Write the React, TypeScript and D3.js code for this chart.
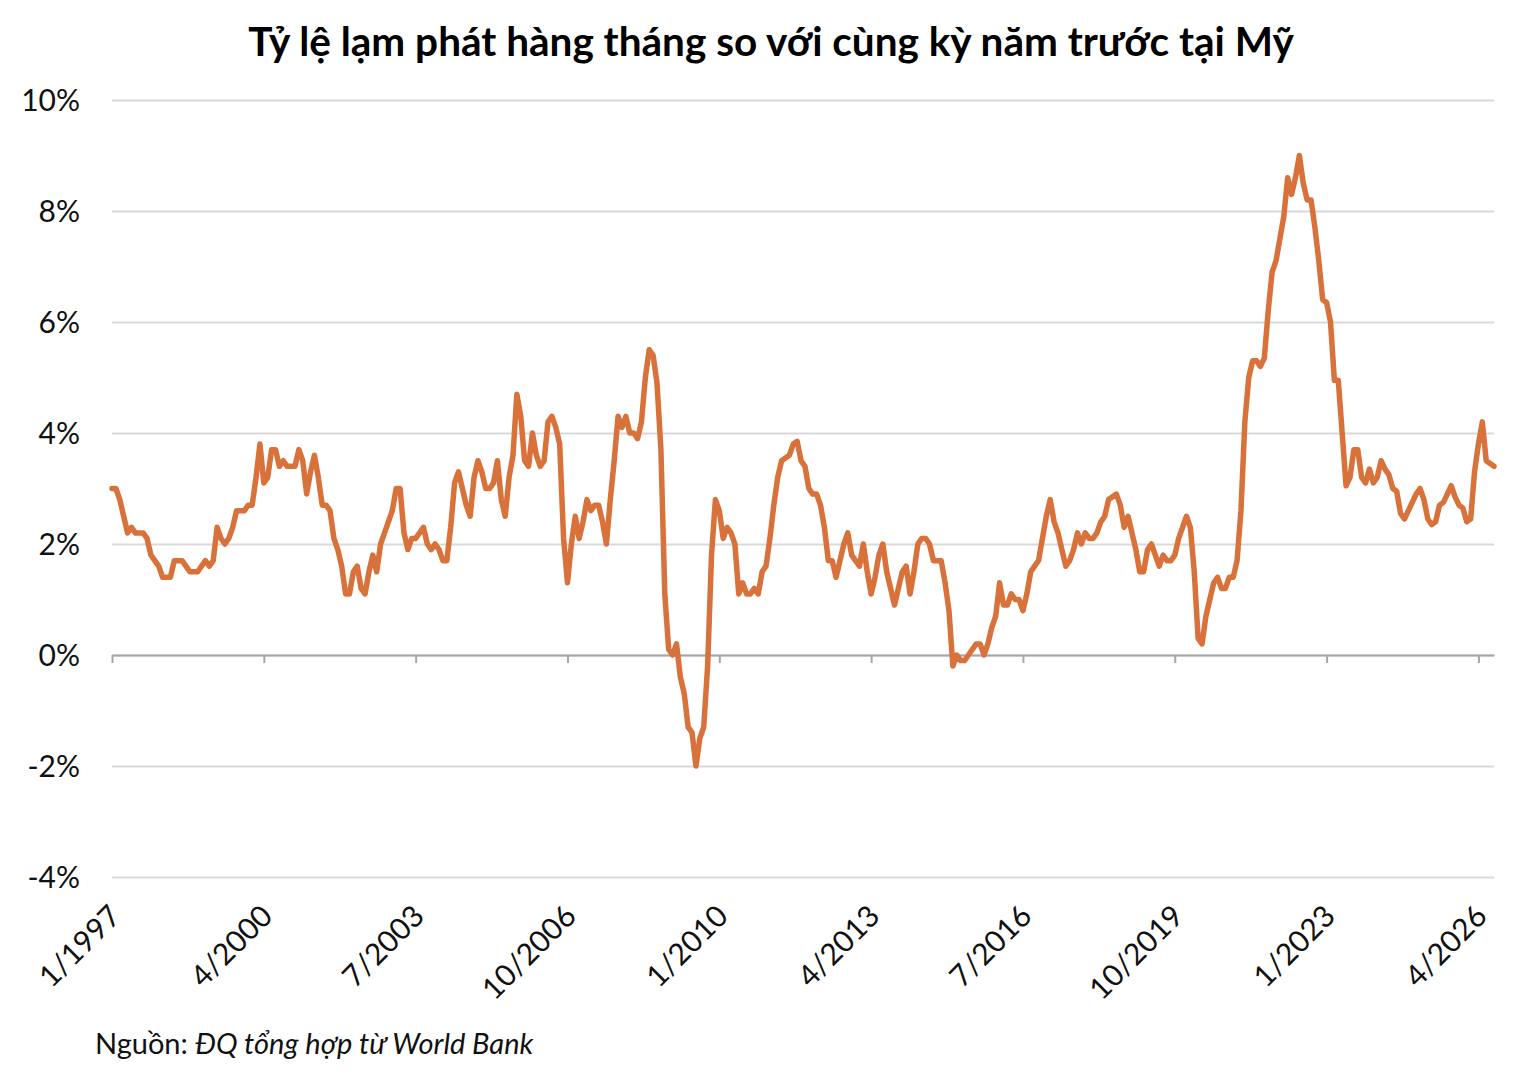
import React, { useEffect, useRef } from "react";
import * as d3 from "d3";

// US CPI, % change vs same month a year earlier
const years = [
  1997, 1998, 1999, 2000, 2001, 2002, 2003, 2004, 2005, 2006, 2007, 2008, 2009, 2010, 2011,
  2012, 2013, 2014, 2015, 2016, 2017, 2018, 2019, 2020, 2021, 2022, 2023, 2024, 2025, 2026,
];
const v1997 = [3.0, 3.0, 2.8, 2.5, 2.2, 2.3, 2.2, 2.2, 2.2, 2.1, 1.8, 1.7];
const v1998 = [1.6, 1.4, 1.4, 1.4, 1.7, 1.7, 1.7, 1.6, 1.5, 1.5, 1.5, 1.6];
const v1999 = [1.7, 1.6, 1.7, 2.3, 2.1, 2.0, 2.1, 2.3, 2.6, 2.6, 2.6, 2.7];
const v2000 = [2.7, 3.2, 3.8, 3.1, 3.2, 3.7, 3.7, 3.4, 3.5, 3.4, 3.4, 3.4];
const v2001 = [3.7, 3.5, 2.9, 3.3, 3.6, 3.2, 2.7, 2.7, 2.6, 2.1, 1.9, 1.6];
const v2002 = [1.1, 1.1, 1.5, 1.6, 1.2, 1.1, 1.5, 1.8, 1.5, 2.0, 2.2, 2.4];
const v2003 = [2.6, 3.0, 3.0, 2.2, 1.9, 2.1, 2.1, 2.2, 2.3, 2.0, 1.9, 2.0];
const v2004 = [1.9, 1.7, 1.7, 2.3, 3.1, 3.3, 3.0, 2.7, 2.5, 3.2, 3.5, 3.3];
const v2005 = [3.0, 3.0, 3.1, 3.5, 2.8, 2.5, 3.2, 3.6, 4.7, 4.3, 3.5, 3.4];
const v2006 = [4.0, 3.6, 3.4, 3.5, 4.2, 4.3, 4.1, 3.8, 2.1, 1.3, 2.0, 2.5];
const v2007 = [2.1, 2.4, 2.8, 2.6, 2.7, 2.7, 2.4, 2.0, 2.8, 3.5, 4.3, 4.1];
const v2008 = [4.3, 4.0, 4.0, 3.9, 4.2, 5.0, 5.5, 5.4, 4.9, 3.7, 1.1, 0.1];
const v2009 = [0.0, 0.2, -0.4, -0.7, -1.3, -1.4, -2.0, -1.5, -1.3, -0.2, 1.8, 2.8];
const v2010 = [2.6, 2.1, 2.3, 2.2, 2.0, 1.1, 1.3, 1.1, 1.1, 1.2, 1.1, 1.5];
const v2011 = [1.6, 2.1, 2.7, 3.2, 3.5, 3.55, 3.6, 3.8, 3.85, 3.5, 3.4, 3.0];
const v2012 = [2.9, 2.9, 2.7, 2.3, 1.7, 1.7, 1.4, 1.7, 2.0, 2.2, 1.8, 1.7];
const v2013 = [1.6, 2.0, 1.5, 1.1, 1.4, 1.8, 2.0, 1.5, 1.2, 0.9, 1.2, 1.5];
const v2014 = [1.6, 1.1, 1.5, 2.0, 2.1, 2.1, 2.0, 1.7, 1.7, 1.7, 1.3, 0.8];
const v2015 = [-0.2, 0.0, -0.1, -0.1, 0.0, 0.1, 0.2, 0.2, 0.0, 0.2, 0.5, 0.7];
const v2016 = [1.3, 0.9, 0.9, 1.1, 1.0, 1.0, 0.8, 1.1, 1.5, 1.6, 1.7, 2.1];
const v2017 = [2.5, 2.8, 2.4, 2.2, 1.9, 1.6, 1.7, 1.9, 2.2, 2.0, 2.2, 2.1];
const v2018 = [2.1, 2.2, 2.4, 2.5, 2.8, 2.85, 2.9, 2.7, 2.3, 2.5, 2.2, 1.9];
const v2019 = [1.5, 1.5, 1.9, 2.0, 1.8, 1.6, 1.8, 1.7, 1.7, 1.8, 2.1, 2.3];
const v2020 = [2.5, 2.3, 1.5, 0.3, 0.2, 0.7, 1.0, 1.3, 1.4, 1.2, 1.2, 1.4];
const v2021 = [1.4, 1.7, 2.6, 4.2, 5.0, 5.3, 5.3, 5.2, 5.35, 6.2, 6.9, 7.1];
const v2022 = [7.5, 7.9, 8.6, 8.3, 8.6, 9.0, 8.5, 8.2, 8.2, 7.7, 7.1, 6.4];
const v2023 = [6.35, 6.0, 4.95, 4.95, 4.0, 3.05, 3.2, 3.7, 3.7, 3.2, 3.1, 3.35];
const v2024 = [3.1, 3.2, 3.5, 3.35, 3.25, 3.0, 2.95, 2.55, 2.45, 2.6, 2.75, 2.9];
const v2025 = [3.0, 2.8, 2.45, 2.35, 2.4, 2.7, 2.75, 2.9, 3.05, 2.85, 2.7, 2.65];
const v2026 = [2.4, 2.45, 3.3, 3.8, 4.2, 3.5, 3.45, 3.4];
const series = [
  v1997, v1998, v1999, v2000, v2001, v2002, v2003, v2004, v2005, v2006, v2007, v2008, v2009, v2010, v2011,
  v2012, v2013, v2014, v2015, v2016, v2017, v2018, v2019, v2020, v2021, v2022, v2023, v2024, v2025, v2026,
];

const tickLabels = ["1/1997", "4/2000", "7/2003", "10/2006", "1/2010", "4/2013", "7/2016", "10/2019", "1/2023", "4/2026"];
const yTicks = [-4, -2, 0, 2, 4, 6, 8, 10];

const title = "Tỷ lệ lạm phát hàng tháng so với cùng kỳ năm trước tại Mỹ";

const W = 1538;
const H = 1084;
const left = 112;
const right = 1494;
const top = 100;
const bottom = 877;

const App = () => {
  const ref = useRef<SVGSVGElement>(null);

  useEffect(() => {
    const svg = d3.select(ref.current);
    svg.selectAll("*").remove();

    const months = years.flatMap((yr, i) => series[i].map((_, m) => `${m + 1}/${yr}`));
    const values = series.flat();

    const x = d3.scalePoint<string>().domain(months).range([left, right]);
    const y = d3.scaleLinear().domain([-4, 10]).range([bottom, top]);

    // title
    svg
      .append("text")
      .attr("x", 771)
      .attr("y", 56)
      .attr("text-anchor", "middle")
      .attr("font-family", "Lato")
      .attr("font-weight", 700)
      .attr("font-size", 40.5)
      .attr("fill", "#000")
      .text(title);

    // gridlines + y labels
    const grid = svg
      .append("g")
      .attr("transform", `translate(${left},0)`)
      .call(
        d3
          .axisLeft(y)
          .tickValues(yTicks)
          .tickSize(-(right - left))
          .tickPadding(32)
          .tickFormat((d) => `${d}%`)
      );
    grid.select(".domain").remove();
    grid.selectAll(".tick line").attr("stroke", "#d9d9d9").attr("stroke-width", 2);
    grid
      .selectAll(".tick text")
      .attr("font-family", "Lato")
      .attr("font-size", 30)
      .attr("fill", "#111")
      .attr("dy", "0.36em");

    // x axis on the 0% line
    const xAxis = svg
      .append("g")
      .attr("transform", `translate(0,${y(0)})`)
      .call(d3.axisBottom(x).tickValues(tickLabels).tickSize(8).tickSizeOuter(0));
    xAxis.select(".domain").attr("stroke", "#a6a6a6").attr("stroke-width", 2);
    xAxis.selectAll(".tick line").attr("stroke", "#a6a6a6").attr("stroke-width", 2);
    xAxis
      .selectAll(".tick text")
      .attr("x", 0)
      .attr("y", 0)
      .attr("dy", 0)
      .attr("transform", "translate(10,263) rotate(-45)")
      .attr("text-anchor", "end")
      .attr("font-family", "Lato")
      .attr("font-size", 30)
      .attr("fill", "#111");

    // the series
    const line = d3
      .line<number>()
      .x((_, i) => x(months[i]) as number)
      .y((d) => y(d));
    svg
      .append("path")
      .datum(values)
      .attr("d", line)
      .attr("fill", "none")
      .attr("stroke", "#d9713b")
      .attr("stroke-width", 5.5)
      .attr("stroke-linejoin", "round")
      .attr("stroke-linecap", "round");

    // source note
    const src = svg
      .append("text")
      .attr("x", 95)
      .attr("y", 1054)
      .attr("font-family", "Lato")
      .attr("font-size", 29)
      .attr("fill", "#111");
    src.append("tspan").text("Nguồn: ");
    src.append("tspan").attr("font-style", "italic").text("ĐQ tổng hợp từ World Bank");
  }, []);

  return (
    <svg
      ref={ref}
      width={W}
      height={H}
      style={{ position: "absolute", left: 0, top: 0, background: "#fff" }}
    />
  );
};

export default App;
